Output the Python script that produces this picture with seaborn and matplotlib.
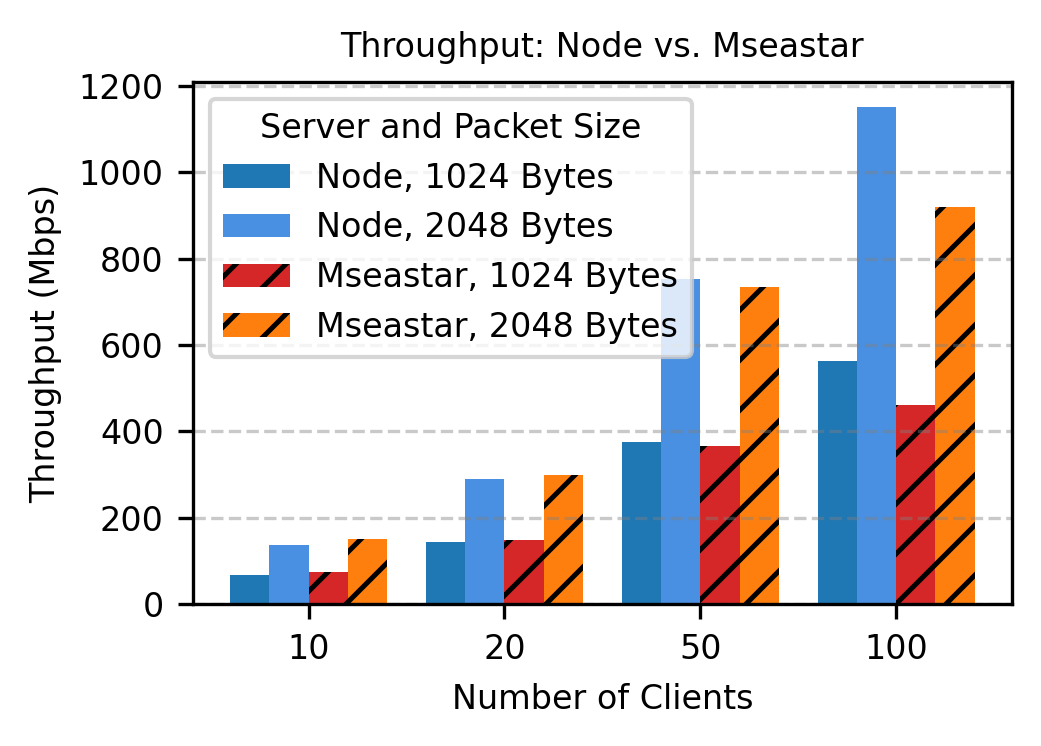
import pandas as pd
import seaborn as sns
import matplotlib.pyplot as plt

clients = ['10', '20', '50', '100']
node_1024 = [67, 144, 376, 564]
node_2048 = [136, 290, 752, 1151]
mseastar_1024 = [74, 149, 366, 460]
mseastar_2048 = [150, 299, 735, 920]

series = {
    'Node, 1024 Bytes': node_1024,
    'Node, 2048 Bytes': node_2048,
    'Mseastar, 1024 Bytes': mseastar_1024,
    'Mseastar, 2048 Bytes': mseastar_2048,
}
colors = ['#1f77b4', '#4a90e2', '#d62728', '#ff7f0e']
hatches = ['', '', '//', '//']

rows = []
for name, vals in series.items():
    for c, v in zip(clients, vals):
        rows.append({'clients': c, 'tp': v, 'server': name})
df = pd.DataFrame(rows)

plt.rcParams['font.family'] = ['DejaVu Sans']
plt.rcParams['hatch.linewidth'] = 1.2
fig, ax = plt.subplots(figsize=(1041 / 300, 746 / 300), dpi=100)
fig.subplots_adjust(left=0.1854, right=0.972, bottom=0.19, top=0.89)

sns.barplot(df, x='clients', y='tp', hue='server', order=clients,
            hue_order=list(series), palette=colors, ax=ax, width=0.8,
            saturation=1, errorbar=None)

for cont, h in zip(ax.containers, hatches):
    for bar in cont:
        bar.set_hatch(h)
        bar.set_edgecolor('black')
        bar.set_linewidth(0)

# plain matplotlib-style 5% x margin around the bars
ax.set_xlim(-0.59, len(clients) - 1 + 0.59)

ax.grid(axis='y', linestyle='--', color='gray', alpha=0.42, linewidth=0.8)
ax.set_title('Throughput: Node vs. Mseastar', fontsize=8)
ax.set_xlabel('Number of Clients', fontsize=8)
ax.set_ylabel('Throughput (Mbps)', fontsize=8)
ax.tick_params(labelsize=8)

handles, labels = ax.get_legend_handles_labels()
for hd, h in zip(handles, hatches):
    hd.set_hatch(h)
    hd.set_edgecolor('black')
    hd.set_linewidth(0)
ax.legend(handles, labels, title='Server and Packet Size', loc='upper left',
          fontsize=8, title_fontsize=8)

fig.savefig('out.png', dpi=300)
